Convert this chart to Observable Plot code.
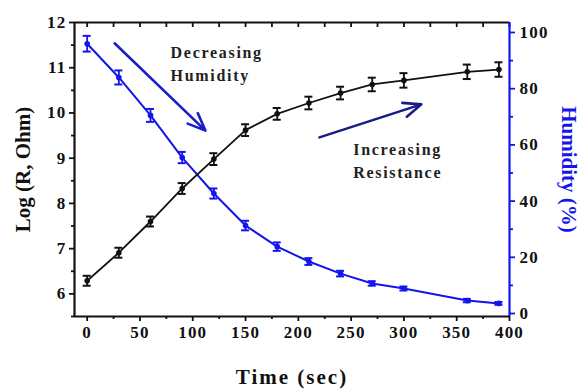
<!DOCTYPE html>
<html><head><meta charset="utf-8">
<script src="https://cdn.jsdelivr.net/npm/d3@7"></script>
<script src="https://cdn.jsdelivr.net/npm/@observablehq/plot@0.6"></script>
<style>
html,body{margin:0;padding:0;background:#fff;}
#chart svg{display:block;}
#chart text{letter-spacing:1.2px;}
</style></head><body><div id="chart"></div>
<script>
// ---- data ----
const times    = [0, 30, 60, 90, 120, 150, 180, 210, 240, 270, 300, 360, 390];
const logR     = [6.29, 6.91, 7.60, 8.33, 8.98, 9.62, 9.98, 10.22, 10.44, 10.63, 10.72, 10.91, 10.96];
const logRErr  = [0.11, 0.11, 0.11, 0.12, 0.13, 0.13, 0.13, 0.14, 0.14, 0.15, 0.16, 0.16, 0.16];
const humidity = [96, 84, 70.5, 55.5, 42.7, 31.3, 23.8, 18.5, 14.2, 10.7, 8.9, 4.6, 3.6];
const humErr   = [2.8, 2.5, 2.3, 2.0, 1.8, 1.7, 1.5, 1.2, 1.0, 0.8, 0.7, 0.6, 0.5];

const xTicks = [0, 50, 100, 150, 200, 250, 300, 350, 400];
const xMinor = [25, 75, 125, 175, 225, 275, 325, 375];
const topTicks = [0, 25, 50, 75, 100, 125, 150, 175, 200, 225, 250, 275, 300, 325, 350, 375, 400];
const yTicks = [6, 7, 8, 9, 10, 11, 12];
const yMinor = [5.5, 6.5, 7.5, 8.5, 9.5, 10.5, 11.5];
const humTicks = [0, 20, 40, 60, 80, 100];
const humMinor = [10, 30, 50, 70, 90];

const xLabel = "Time (sec)";
const yLabel = "Log (R, Ohm)";
const y2Label = "Humidity (%)";

const annotTexts = ["Decreasing\nHumidity", "Increasing\nResistance"];
const annotX = [79, 252];
const annotY = [11.13, 8.98];
const arrowX1 = [26, 220];
const arrowY1 = [11.54, 9.46];
const arrowX2 = [112, 316.5];
const arrowY2 = [9.61, 10.19];
const arrowColors = ["#1c1ccf", "#1a1a88"];

// ---- scales & tables ----
const xDomain = [-12, 400];
const yDomain = [5.5, 12];
const hum2y = d3.scaleLinear().domain([0, 100]).range([5.566, 11.779]);
const BLUE = "#1414ee";
const BLACK = "#111";

const rData = times.map((t, i) => ({t, v: logR[i], lo: logR[i] - logRErr[i], hi: logR[i] + logRErr[i]}));
const hData = times.map((t, i) => ({t, v: hum2y(humidity[i]), lo: hum2y(humidity[i] - humErr[i]), hi: hum2y(humidity[i] + humErr[i])}));
const hTickPos = humTicks.map(hum2y);
const hLabelMap = new Map(hTickPos.map((p, i) => [p, String(humTicks[i])]));
const annots = annotTexts.map((text, i) => ({text, x: annotX[i], y: annotY[i]}));
const arrows = arrowX1.map((x1, i) => ({x1, y1: arrowY1[i], x2: arrowX2[i], y2: arrowY2[i], c: arrowColors[i]}));

const FONT = "'Liberation Serif', 'Times New Roman', serif";
const blank = () => "";

const plot = Plot.plot({
  width: 582, height: 389,
  marginLeft: 74, marginRight: 73, marginTop: 22, marginBottom: 73,
  x: {domain: xDomain},
  y: {domain: yDomain},
  style: {fontFamily: FONT, fontWeight: "bold", fontSize: "17px", color: BLACK, background: "#fff"},
  marks: [
    // axes
    Plot.axisX(xTicks, {tickSize: 5, tickPadding: 4, fontSize: 17, fontWeight: "bold", label: null, strokeWidth: 1.8, fill: BLACK, stroke: BLACK}),
    Plot.axisX(xMinor, {tickSize: 3, strokeWidth: 1.8, stroke: BLACK, tickFormat: blank, label: null}),
    Plot.axisX(topTicks, {anchor: "top", tickSize: -4, strokeWidth: 1.8, stroke: BLACK, tickFormat: blank, label: null}),
    Plot.axisY(yTicks, {anchor: "left", tickSize: 5, tickPadding: 3, fontSize: 17, fontWeight: "bold", label: null, strokeWidth: 1.8, fill: BLACK, stroke: BLACK}),
    Plot.axisY(yMinor, {anchor: "left", tickSize: 3, strokeWidth: 1.8, stroke: BLACK, tickFormat: blank, label: null}),
    Plot.axisY(hTickPos, {anchor: "right", tickSize: 5, tickPadding: 5, fontSize: 17, fontWeight: "bold", label: null, strokeWidth: 1.8, stroke: BLUE, fill: BLACK, tickFormat: d => hLabelMap.get(d)}),
    Plot.axisY(humMinor.map(hum2y), {anchor: "right", tickSize: 3, strokeWidth: 1.8, stroke: BLUE, tickFormat: blank, label: null}),
    // frame
    Plot.ruleY([yDomain[0]], {stroke: BLACK, strokeWidth: 2.2}),
    Plot.ruleY([yDomain[1]], {stroke: BLACK, strokeWidth: 2.2}),
    Plot.ruleX([xDomain[0]], {stroke: BLACK, strokeWidth: 2.2}),
    Plot.ruleX([xDomain[1]], {stroke: BLUE, strokeWidth: 2.2}),
    // humidity series
    Plot.line(hData, {x: "t", y: "v", stroke: BLUE, strokeWidth: 2}),
    Plot.ruleX(hData, {x: "t", y1: "lo", y2: "hi", stroke: BLUE, strokeWidth: 1.8}),
    Plot.ruleY(hData, {y: "lo", x1: "t", x2: "t", insetLeft: -4, insetRight: -4, stroke: BLUE, strokeWidth: 2}),
    Plot.ruleY(hData, {y: "hi", x1: "t", x2: "t", insetLeft: -4, insetRight: -4, stroke: BLUE, strokeWidth: 2}),
    Plot.dot(hData, {x: "t", y: "v", r: 2.8, fill: BLUE}),
    // resistance series
    Plot.line(rData, {x: "t", y: "v", stroke: BLACK, strokeWidth: 1.8}),
    Plot.ruleX(rData, {x: "t", y1: "lo", y2: "hi", stroke: BLACK, strokeWidth: 1.8}),
    Plot.ruleY(rData, {y: "lo", x1: "t", x2: "t", insetLeft: -4, insetRight: -4, stroke: BLACK, strokeWidth: 2}),
    Plot.ruleY(rData, {y: "hi", x1: "t", x2: "t", insetLeft: -4, insetRight: -4, stroke: BLACK, strokeWidth: 2}),
    Plot.dot(rData, {x: "t", y: "v", r: 2.8, fill: BLACK}),
    // annotations
    Plot.arrow(arrows, {x1: "x1", y1: "y1", x2: "x2", y2: "y2", stroke: "c", strokeWidth: 2.6, headLength: 11, headAngle: 45}),
    Plot.text(annots, {x: "x", y: "y", text: "text", textAnchor: "start", lineAnchor: "middle", lineHeight: 1.45, fontSize: 16, fontWeight: "bold", fill: "#222"}),
    // axis titles
    Plot.text([xLabel], {text: d => d, frameAnchor: "bottom", dy: 61, fontSize: 21, fontWeight: "bold", fill: BLACK, textAnchor: "middle", lineAnchor: "middle"}),
    Plot.text([yLabel], {text: d => d, frameAnchor: "left", dx: -51, rotate: -90, fontSize: 21, fontWeight: "bold", fill: BLACK, textAnchor: "middle", lineAnchor: "middle"}),
    Plot.text([y2Label], {text: d => d, frameAnchor: "right", dx: 59, rotate: 90, fontSize: 21, fontWeight: "bold", fill: BLUE, textAnchor: "middle", lineAnchor: "middle"})
  ]
});

d3.select(plot).selectAll("text").each(function () {
  const t = this.textContent;
  const tr = this.getAttribute("transform") || "";
  if (/rotate/.test(tr)) this.style.letterSpacing = "0px";
  else if (t === xLabel) this.style.letterSpacing = "2px";
  else if (/Decreasing|Increasing/.test(t)) this.style.letterSpacing = "1.7px";
});

document.getElementById("chart").appendChild(plot);
</script></body></html>
